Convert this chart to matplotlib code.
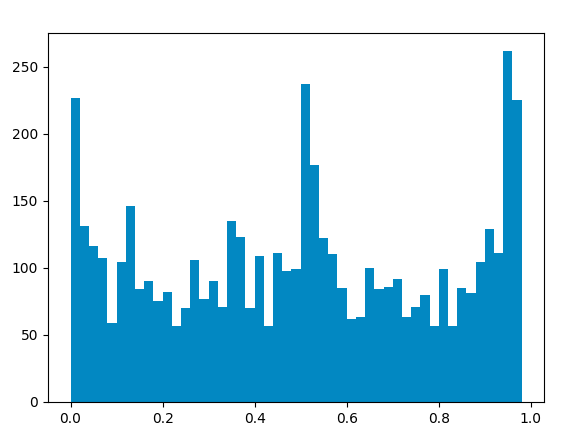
import numpy as np
import matplotlib
matplotlib.use('Agg')
import matplotlib.pyplot as plt

# bin counts (49 bins of width 0.02)
counts = [227, 131, 116, 107, 59, 104, 146, 84, 90, 75,
          82, 57, 70, 106, 77, 90, 71, 135, 123, 70,
          109, 57, 111, 98, 99, 237, 177, 122, 110, 85,
          62, 63, 100, 84, 86, 92, 63, 71, 80, 57,
          99, 57, 85, 81, 104, 129, 111, 262, 225]
bin_width = 0.02
edges = np.arange(len(counts) + 1) * bin_width
centers = edges[:-1] + bin_width / 2

fig = plt.figure(figsize=(5.68, 4.4), dpi=100)
fig.subplots_adjust(left=0.0845, right=0.958, bottom=0.0864, top=0.925)
ax = fig.add_subplot(111)
ax.hist(centers, bins=edges, weights=counts, color='#0288c2')
fig.savefig('out.png', dpi=100)
